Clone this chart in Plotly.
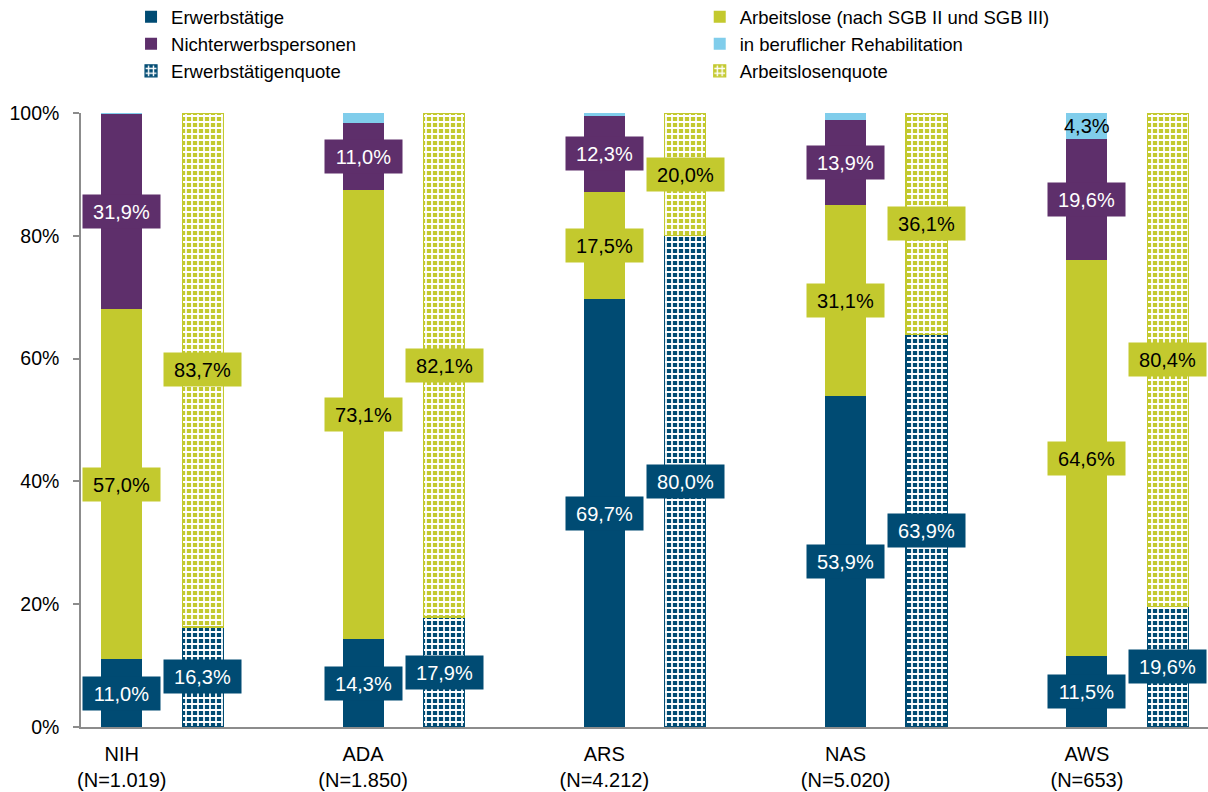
import plotly.graph_objects as go

# ---------------- data ----------------
groups = ["NIH", "ADA", "ARS", "NAS", "AWS"]
group_n = ["(N=1.019)", "(N=1.850)", "(N=4.212)", "(N=5.020)", "(N=653)"]

erwerbstaetige = [11.0, 14.3, 69.7, 53.9, 11.5]
arbeitslose = [57.0, 73.1, 17.5, 31.1, 64.6]
nichterwerb = [31.9, 11.0, 12.3, 13.9, 19.6]
reha = [0.1, 1.6, 0.5, 1.1, 4.3]
reha_show_label = [False, False, False, False, True]

erw_quote = [16.3, 17.9, 80.0, 63.9, 19.6]
al_quote = [83.7, 82.1, 20.0, 36.1, 80.4]

y_ticks = [0, 20, 40, 60, 80, 100]
y_ticktext = [f"{v}%" for v in y_ticks]

# ---------------- style ----------------
BLUE = "#004B73"
GREEN = "#C3C92E"
PURPLE = "#5E2F6B"
LIGHTBLUE = "#80CDEB"
AXIS = "#8C8C8C"
FONT = "Liberation Sans, Arial, sans-serif"

BW = 0.17        # bar width (category units)
OFFSET = 0.3357  # offset of quota bar
pos1 = list(range(len(groups)))
pos2 = [p + OFFSET for p in pos1]

fig = go.Figure()

def solid(name, x, y, color, legend, group):
    fig.add_trace(go.Bar(
        x=x, y=y, name=name, width=BW,
        marker=dict(color=color, line=dict(width=0)),
        legend=legend, legendgroup=group, hoverinfo="y+name"))

def patterned(name, x, y, color, legend, group):
    fig.add_trace(go.Bar(
        x=x, y=y, name=name, width=BW,
        marker=dict(color=color, line=dict(color=color, width=1.2),
                    pattern=dict(shape="+", fgcolor="white", bgcolor=color,
                                 size=6, solidity=0.5, fillmode="replace")),
        legend=legend, legendgroup=group, hoverinfo="y+name"))

solid("Erwerbstätige", pos1, erwerbstaetige, BLUE, "legend", "a")
solid("Arbeitslose (nach SGB II und SGB III)", pos1, arbeitslose, GREEN, "legend2", "b")
solid("Nichterwerbspersonen", pos1, nichterwerb, PURPLE, "legend", "c")
solid("in beruflicher Rehabilitation", pos1, reha, LIGHTBLUE, "legend2", "d")
patterned("Erwerbstätigenquote", pos2, erw_quote, BLUE, "legend", "e")
patterned("Arbeitslosenquote", pos2, al_quote, GREEN, "legend2", "f")

def fmt(v):
    return f"{v:.1f}".replace(".", ",") + "%"

annotations = []

def add_label(x, y_center, value, bg, fg, box=True):
    annotations.append(dict(
        x=x, y=y_center, xref="x", yref="y", text=fmt(value), showarrow=False,
        font=dict(family=FONT, size=20, color=fg),
        bgcolor=bg if box else "rgba(0,0,0,0)",
        width=77 if box else None, height=33 if box else None,
        align="center", valign="middle", borderpad=0))

for i in range(len(groups)):
    base = 0.0
    for vals, bg, fg in [(erwerbstaetige, BLUE, "white"),
                         (arbeitslose, GREEN, "black"),
                         (nichterwerb, PURPLE, "white")]:
        add_label(pos1[i], base + vals[i] / 2, vals[i], bg, fg)
        base += vals[i]
    if reha_show_label[i]:
        add_label(pos1[i], base + reha[i] / 2, reha[i], None, "black", box=False)
    add_label(pos2[i], erw_quote[i] / 2, erw_quote[i], BLUE, "white")
    add_label(pos2[i], erw_quote[i] + al_quote[i] / 2, al_quote[i], GREEN, "black")

legend_common = dict(yanchor="top", xanchor="left", orientation="v",
                     traceorder="grouped", tracegroupgap=0,
                     font=dict(family=FONT, size=18.5, color="black"),
                     bgcolor="rgba(0,0,0,0)", itemclick=False, itemdoubleclick=False)

fig.update_layout(
    width=1208, height=792,
    barmode="stack",
    plot_bgcolor="white", paper_bgcolor="white",
    margin=dict(l=81, r=0, t=113, b=65, autoexpand=False),
    font=dict(family=FONT, size=19, color="black"),
    annotations=annotations,
    showlegend=True,
    legend=dict(x=0.0444, y=1.187, **legend_common),
    legend2=dict(x=0.549, y=1.187, **legend_common),
    xaxis=dict(range=[-0.169, 4.502], tickmode="array", tickvals=pos1,
               ticktext=[f"{g}<br>{n}" for g, n in zip(groups, group_n)],
               showline=True, linecolor=AXIS, linewidth=1.5,
               ticks="", showgrid=False, zeroline=False, ticklabelstandoff=8,
               tickfont=dict(family=FONT, size=20, color="black")),
    yaxis=dict(range=[0, 100], tickmode="array", tickvals=y_ticks, ticktext=y_ticktext,
               showline=True, linecolor=AXIS, linewidth=1.5,
               ticks="outside", ticklen=6, tickcolor=AXIS, tickwidth=1.5,
               showgrid=False, zeroline=False, ticklabelstandoff=10,
               tickfont=dict(family=FONT, size=19.5, color="black")),
)

fig.write_html("out.html", config={"displayModeBar": False},
               post_script="document.body.style.margin='0';")
